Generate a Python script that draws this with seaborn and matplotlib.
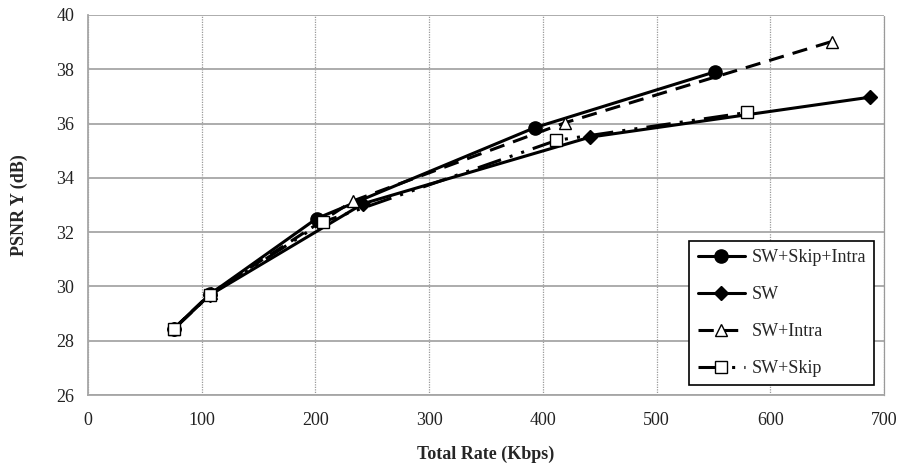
import pandas as pd
import numpy as np
import matplotlib.pyplot as plt
import seaborn as sns

rate_skip_intra = [75.6, 107.5, 201, 393, 551]
psnr_skip_intra = [28.45, 29.72, 32.5, 35.85, 37.9]

rate_sw = [75.6, 107, 242, 441.5, 687.6]
psnr_sw = [28.45, 29.68, 33.05, 35.5, 36.97]

rate_intra = [75.6, 108, 233, 419.5, 654]
psnr_intra = [28.45, 29.75, 33.15, 36.03, 39.02]

rate_skip = [75.6, 107.5, 207, 412, 580]
psnr_skip = [28.43, 29.7, 32.38, 35.38, 36.41]

labels = ["SW+Skip+Intra", "SW", "SW+Intra", "SW+Skip"]

sns.set_style("white")
plt.rcParams["font.family"] = ["Liberation Serif", "DejaVu Serif"]

fig = plt.figure(figsize=(9.04, 4.67), dpi=100)
ax = fig.add_axes([0.0973, 0.154, 0.8805, 0.814])

series = [
    (rate_skip_intra, psnr_skip_intra, "-", "o", "black"),
    (rate_sw, psnr_sw, "-", "D", "black"),
    (rate_intra, psnr_intra, (0, (5, 3)), "^", "white"),
    (rate_skip, psnr_skip, (0, (8, 3, 1, 3, 1, 3)), "s", "white"),
]
sizes = {"o": 9.5, "D": 7, "^": 9, "s": 9}

for (x, y, ls, mk, fc), lab in zip(series, labels):
    df = pd.DataFrame({"rate": x, "psnr": y})
    sns.lineplot(
        data=df, x="rate", y="psnr", ax=ax, color="black", linestyle=ls,
        linewidth=2.2, marker=mk, markersize=sizes[mk], markerfacecolor=fc,
        markeredgecolor="black", markeredgewidth=1.0, label=lab,
        sort=False, zorder=3,
    )

ax.set_xlim(0, 700)
ax.set_ylim(26, 40)
ax.set_xticks(np.arange(0, 701, 100))
ax.set_yticks(np.arange(26, 41, 2))
ax.yaxis.grid(True, color="#a6a6a6", linewidth=1.3, linestyle="-")
ax.xaxis.grid(True, color="#9a9a9a", linewidth=0.9, linestyle=(0, (1, 1)))
ax.set_axisbelow(True)
ax.spines["top"].set_visible(False)
ax.spines["right"].set_color("#9a9a9a")
ax.spines["right"].set_linewidth(0.9)
ax.spines["right"].set_linestyle((0, (1, 1)))
for side in ["left", "bottom"]:
    ax.spines[side].set_color("#a6a6a6")
    ax.spines[side].set_linewidth(1.3)
ax.tick_params(axis="both", direction="out", length=4, width=1.2,
               color="#a6a6a6", labelsize=13, labelcolor="#222222", pad=6)
ax.tick_params(axis="x", pad=8)
ax.tick_params(axis="y", right=False)

ax.set_xlabel("Total Rate (Kbps)", fontsize=13, fontweight="bold", labelpad=12)
ax.set_ylabel("PSNR Y (dB)", fontsize=13, fontweight="bold", labelpad=20)

leg = ax.legend(loc="lower right", bbox_to_anchor=(0.988, 0.026), frameon=True,
                fancybox=False, edgecolor="black", fontsize=13,
                handlelength=2.6, handletextpad=0.4, labelspacing=1.1,
                borderpad=0.45, borderaxespad=0)
leg.get_frame().set_linewidth(1.2)
leg.get_frame().set_alpha(1)

fig.savefig("out.png", dpi=100)
